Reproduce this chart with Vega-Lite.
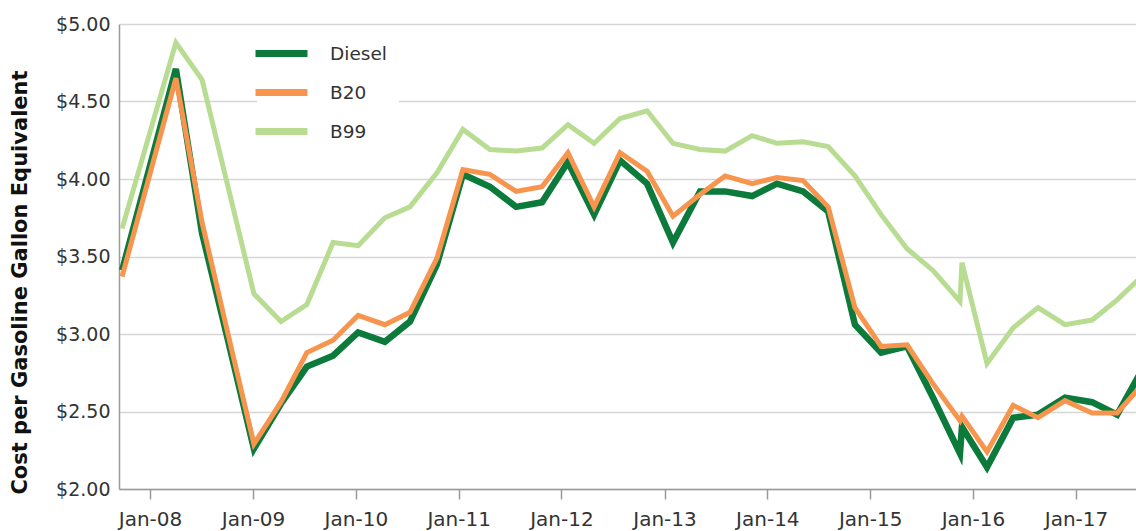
{
  "$schema": "https://vega.github.io/schema/vega-lite/v6.json",
  "width": 1017,
  "height": 465,
  "autosize": {"type": "none"},
  "padding": {"left": 119, "top": 24, "right": 0, "bottom": 42},
  "background": "white",
  "config": {
    "font": "DejaVu Sans",
    "view": {"stroke": null},
    "axisX": {
      "domainColor": "#9a9a9a", "domainWidth": 1.5,
      "tickColor": "#9a9a9a", "tickWidth": 1.5, "tickSize": 10,
      "labelFontSize": 20, "labelColor": "#333333", "labelPadding": 10,
      "grid": false
    },
    "axisY": {
      "domainColor": "#9a9a9a", "domainWidth": 1.5,
      "ticks": false, "grid": true, "gridColor": "#d6d6d6", "gridWidth": 1.5,
      "labelFontSize": 19, "labelColor": "#333333", "labelPadding": 9
    }
  },
  "data": {
    "values": [
      {"date": "2007-09-24", "Diesel": 3.41, "B20": 3.37, "B99": 3.68},
      {"date": "2008-04-02", "Diesel": 4.71, "B20": 4.65, "B99": 4.88},
      {"date": "2008-07-04", "Diesel": 3.65, "B20": 3.72, "B99": 4.64},
      {"date": "2008-10-04", "Diesel": 2.96, "B20": 3.00, "B99": 3.95},
      {"date": "2009-01-04", "Diesel": 2.26, "B20": 2.29, "B99": 3.26},
      {"date": "2009-04-10", "Diesel": 2.55, "B20": 2.56, "B99": 3.08},
      {"date": "2009-07-11", "Diesel": 2.79, "B20": 2.88, "B99": 3.19},
      {"date": "2009-10-12", "Diesel": 2.86, "B20": 2.96, "B99": 3.59},
      {"date": "2010-01-09", "Diesel": 3.01, "B20": 3.12, "B99": 3.57},
      {"date": "2010-04-14", "Diesel": 2.95, "B20": 3.06, "B99": 3.75},
      {"date": "2010-07-12", "Diesel": 3.08, "B20": 3.14, "B99": 3.82},
      {"date": "2010-10-16", "Diesel": 3.45, "B20": 3.49, "B99": 4.04},
      {"date": "2011-01-16", "Diesel": 4.03, "B20": 4.06, "B99": 4.32},
      {"date": "2011-04-22", "Diesel": 3.95, "B20": 4.03, "B99": 4.19},
      {"date": "2011-07-24", "Diesel": 3.82, "B20": 3.92, "B99": 4.18},
      {"date": "2011-10-24", "Diesel": 3.85, "B20": 3.95, "B99": 4.20},
      {"date": "2012-01-24", "Diesel": 4.11, "B20": 4.17, "B99": 4.35},
      {"date": "2012-04-26", "Diesel": 3.77, "B20": 3.82, "B99": 4.23},
      {"date": "2012-07-27", "Diesel": 4.12, "B20": 4.17, "B99": 4.39},
      {"date": "2012-10-31", "Diesel": 3.97, "B20": 4.05, "B99": 4.44},
      {"date": "2013-01-31", "Diesel": 3.59, "B20": 3.76, "B99": 4.23},
      {"date": "2013-05-07", "Diesel": 3.92, "B20": 3.90, "B99": 4.19},
      {"date": "2013-08-04", "Diesel": 3.92, "B20": 4.02, "B99": 4.18},
      {"date": "2013-11-08", "Diesel": 3.89, "B20": 3.97, "B99": 4.28},
      {"date": "2014-02-04", "Diesel": 3.97, "B20": 4.01, "B99": 4.23},
      {"date": "2014-05-08", "Diesel": 3.92, "B20": 3.99, "B99": 4.24},
      {"date": "2014-08-05", "Diesel": 3.79, "B20": 3.82, "B99": 4.21},
      {"date": "2014-11-08", "Diesel": 3.06, "B20": 3.17, "B99": 4.02},
      {"date": "2015-02-09", "Diesel": 2.88, "B20": 2.92, "B99": 3.77},
      {"date": "2015-05-12", "Diesel": 2.92, "B20": 2.93, "B99": 3.55},
      {"date": "2015-08-12", "Diesel": 2.59, "B20": 2.68, "B99": 3.41},
      {"date": "2015-11-16", "Diesel": 2.23, "B20": 2.44, "B99": 3.21},
      {"date": "2015-11-23", "Diesel": 2.40, "B20": 2.47, "B99": 3.46},
      {"date": "2016-02-20", "Diesel": 2.14, "B20": 2.24, "B99": 2.81},
      {"date": "2016-05-23", "Diesel": 2.46, "B20": 2.54, "B99": 3.04},
      {"date": "2016-08-19", "Diesel": 2.48, "B20": 2.46, "B99": 3.17},
      {"date": "2016-11-23", "Diesel": 2.59, "B20": 2.57, "B99": 3.06},
      {"date": "2017-02-27", "Diesel": 2.56, "B20": 2.49, "B99": 3.09},
      {"date": "2017-05-27", "Diesel": 2.48, "B20": 2.49, "B99": 3.22},
      {"date": "2017-08-27", "Diesel": 2.78, "B20": 2.68, "B99": 3.38}
    ]
  },
  "encoding": {
    "x": {
      "field": "date", "type": "temporal",
      "scale": {
        "type": "utc",
        "domain": [
          {"year": 2007, "month": 9, "date": 13, "utc": true},
          {"year": 2017, "month": 8, "date": 2, "utc": true}
        ]
      },
      "axis": {
        "title": null,
        "labelExpr": "utcFormat(datum.value, '%b-%y')",
        "values": [
          {"year": 2008, "month": 1, "date": 1, "utc": true},
          {"year": 2009, "month": 1, "date": 1, "utc": true},
          {"year": 2010, "month": 1, "date": 1, "utc": true},
          {"year": 2011, "month": 1, "date": 1, "utc": true},
          {"year": 2012, "month": 1, "date": 1, "utc": true},
          {"year": 2013, "month": 1, "date": 1, "utc": true},
          {"year": 2014, "month": 1, "date": 1, "utc": true},
          {"year": 2015, "month": 1, "date": 1, "utc": true},
          {"year": 2016, "month": 1, "date": 1, "utc": true},
          {"year": 2017, "month": 1, "date": 1, "utc": true}
        ]
      }
    }
  },
  "layer": [
    {
      "mark": {"type": "line", "strokeWidth": 5, "clip": true},
      "encoding": {
        "y": {
          "field": "B99", "type": "quantitative",
          "scale": {"domain": [2, 5], "nice": false, "zero": false},
          "axis": {
            "title": "Cost per Gasoline Gallon Equivalent",
            "titleFont": "DejaVu Sans", "titleFontSize": 21, "titleFontWeight": "bold", "titleColor": "#111111",
            "titleX": -99, "titleY": 258, "titleAngle": -90, "titleAlign": "center", "titleBaseline": "middle",
            "values": [2, 2.5, 3, 3.5, 4, 4.5, 5], "format": "$.2f"
          }
        },
        "color": {
          "datum": "B99",
          "scale": {"domain": ["Diesel", "B20", "B99"], "range": ["#0b7a3b", "#f7954f", "#b8dc92"]},
          "legend": {
            "orient": "none", "legendX": 138, "legendY": 5, "title": null,
            "symbolType": "M-3,0H3", "symbolSize": 300, "symbolStrokeWidth": 7,
            "labelFontSize": 18.5, "labelColor": "#333333", "labelOffset": 36,
            "rowPadding": 10, "padding": 12, "fillColor": "white", "strokeColor": null
          }
        }
      }
    },
    {
      "mark": {"type": "line", "strokeWidth": 6.5, "clip": true},
      "encoding": {
        "y": {"field": "Diesel", "type": "quantitative"},
        "color": {"datum": "Diesel"}
      }
    },
    {
      "mark": {"type": "line", "strokeWidth": 5, "clip": true},
      "encoding": {
        "y": {"field": "B20", "type": "quantitative"},
        "color": {"datum": "B20"}
      }
    }
  ]
}
